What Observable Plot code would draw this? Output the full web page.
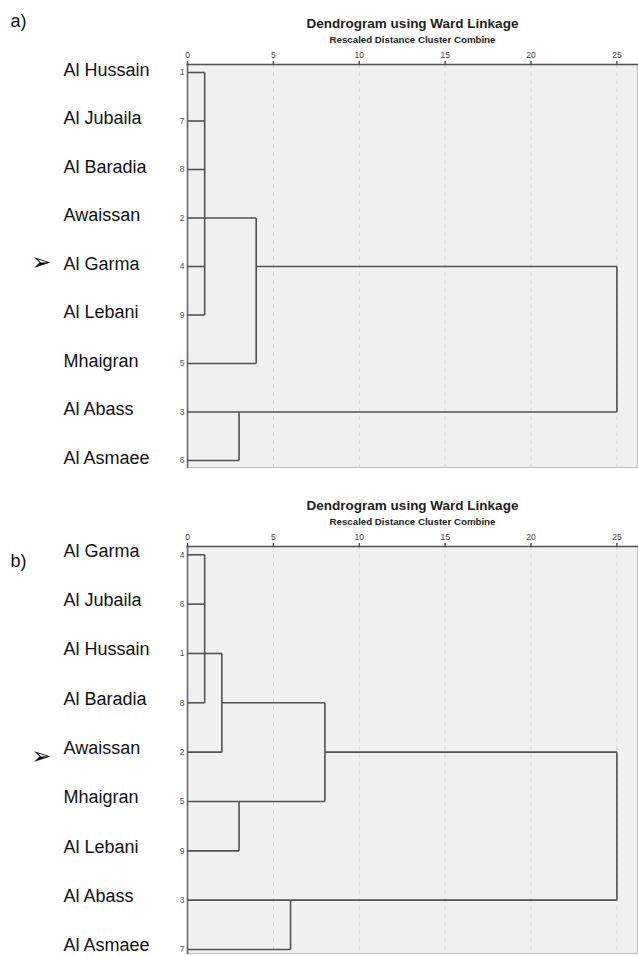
<!DOCTYPE html>
<html>
<head>
<meta charset="utf-8">
<script src="https://cdn.jsdelivr.net/npm/d3@7"></script>
<script src="https://cdn.jsdelivr.net/npm/@observablehq/plot@0.6"></script>
<style>
  html, body { margin: 0; padding: 0; background: #fff; }
  #chart { width: 638px; }
  #chart svg { display: block; }
</style>
</head>
<body>
<div id="chart"></div>
<script>
// ---------- data ----------
const title = "Dendrogram using Ward Linkage";
const subtitle = "Rescaled Distance Cluster Combine";
const distanceTicks = [0, 5, 10, 15, 20, 25];

// panel a
const panelLabelA = "a)";
const leavesA = ["Al Hussain", "Al Jubaila", "Al Baradia", "Awaissan", "Al Garma", "Al Lebani", "Mhaigran", "Al Abass", "Al Asmaee"];
const casesA = [1, 7, 8, 2, 4, 9, 5, 3, 6];
const clustersA = [
  {id: "a1", children: ["Al Hussain", "Al Jubaila", "Al Baradia", "Awaissan", "Al Garma", "Al Lebani"], distance: 1, at: "Awaissan"},
  {id: "a2", children: ["a1", "Mhaigran"], distance: 4, at: "Al Garma"},
  {id: "a3", children: ["Al Abass", "Al Asmaee"], distance: 3, at: "Al Abass"},
  {id: "a4", children: ["a2", "a3"], distance: 25, at: null}
];
const markedA = "Al Garma";

// panel b
const panelLabelB = "b)";
const leavesB = ["Al Garma", "Al Jubaila", "Al Hussain", "Al Baradia", "Awaissan", "Mhaigran", "Al Lebani", "Al Abass", "Al Asmaee"];
const casesB = [4, 6, 1, 8, 2, 5, 9, 3, 7];
const clustersB = [
  {id: "b1", children: ["Al Garma", "Al Jubaila", "Al Hussain", "Al Baradia"], distance: 1, at: "Al Hussain"},
  {id: "b2", children: ["b1", "Awaissan"], distance: 2, at: "Al Baradia"},
  {id: "b3", children: ["Mhaigran", "Al Lebani"], distance: 3, at: "Mhaigran"},
  {id: "b4", children: ["b2", "b3"], distance: 8, at: "Awaissan"},
  {id: "b5", children: ["Al Abass", "Al Asmaee"], distance: 6, at: "Al Abass"},
  {id: "b6", children: ["b4", "b5"], distance: 25, at: null}
];
const markedB = "Awaissan";

// ---------- layout helpers ----------
function segments(leaves, clusters) {
  const pos = new Map(leaves.map((n, i) => [n, {row: i, dist: 0}]));
  for (const c of clusters) pos.set(c.id, {row: c.at ? leaves.indexOf(c.at) : null, dist: c.distance});
  const segs = [];
  for (const c of clusters) {
    const rows = c.children.map(k => pos.get(k).row);
    segs.push({x1: c.distance, x2: c.distance, y1: Math.min(...rows), y2: Math.max(...rows)});
    for (const k of c.children) {
      const p = pos.get(k);
      segs.push({x1: p.dist, x2: c.distance, y1: p.row, y2: p.row});
    }
  }
  return segs;
}

const FONT = "'Liberation Sans', Arial, Helvetica, sans-serif";

function panel({leaves, cases, clusters, marked, label, marginTop, marginBottom, yDomain, markDy, labelDy, letterDy}) {
  const rows = leaves.map((name, i) => ({name, row: i, case: cases[i]}));
  const segs = segments(leaves, clusters);
  const markRow = rows.filter(d => d.name === marked);
  return Plot.plot({
    width: 638,
    height: 478,
    marginLeft: 187,
    marginRight: 1,
    marginTop,
    marginBottom,
    style: {fontFamily: FONT, background: "#fff", overflow: "visible"},
    x: {domain: [0, 26.2]},
    y: {domain: yDomain, reverse: true, axis: null},
    marks: [
      Plot.frame({fill: "#f0f0f0", stroke: "#c4c4c4", strokeWidth: 1.2}),
      Plot.gridX(distanceTicks.filter(t => t > 0), {stroke: "#d0d0d0", strokeOpacity: 1, strokeDasharray: "4,4", strokeWidth: 1}),
      Plot.frame({anchor: "left", stroke: "#6a6a6a", strokeWidth: 1.6}),
      Plot.frame({anchor: "top", stroke: "#555", strokeWidth: 1.6}),
      Plot.axisX(distanceTicks, {anchor: "top", tickSize: 4, tickPadding: 3, fontSize: 8.5, stroke: "#444", fill: "#444", label: null, strokeWidth: 1.3}),
      Plot.link(segs, {x1: "x1", y1: "y1", x2: "x2", y2: "y2", stroke: "#525252", strokeWidth: 1.6}),
      // case numbers
      Plot.text(rows, {x: 0, y: "row", text: d => String(d.case), textAnchor: "end", dx: -3, fontSize: 8.5, fill: "#555"}),
      // leaf names
      Plot.text(rows, {x: 0, y: "row", text: "name", textAnchor: "start", dx: -124, dy: labelDy, fontSize: 18, fill: "#111"}),
      // marker arrow
      Plot.text(markRow, {x: 0, y: "row", text: () => "➢", textAnchor: "middle", dx: -146, dy: markDy, fontSize: 24, fill: "#111", fontFamily: "DejaVu Sans"}),
      // titles
      Plot.text([title], {frameAnchor: "top", lineAnchor: "middle", dy: -40.5, fontSize: 13.5, fontWeight: "bold", fill: "#222"}),
      Plot.text([subtitle], {frameAnchor: "top", lineAnchor: "middle", dy: -24.5, fontSize: 9.7, fontWeight: "bold", fill: "#222"}),
      // panel letter
      Plot.text([label], {frameAnchor: "top-left", lineAnchor: "middle", dx: -177, dy: letterDy, textAnchor: "start", fontSize: 18, fill: "#111"})
    ]
  });
}

const chart = document.getElementById("chart");
chart.append(panel({
  leaves: leavesA, cases: casesA, clusters: clustersA, marked: markedA, label: panelLabelA,
  marginTop: 64, marginBottom: 11, yDomain: [-0.165, 8.144], markDy: -4, labelDy: -2.5, letterDy: -43
}));
chart.append(panel({
  leaves: leavesB, cases: casesB, clusters: clustersB, marked: markedB, label: panelLabelB,
  marginTop: 68, marginBottom: 3, yDomain: [-0.168, 8.081], markDy: 4, labelDy: -4, letterDy: 15
}));
</script>
</body>
</html>
